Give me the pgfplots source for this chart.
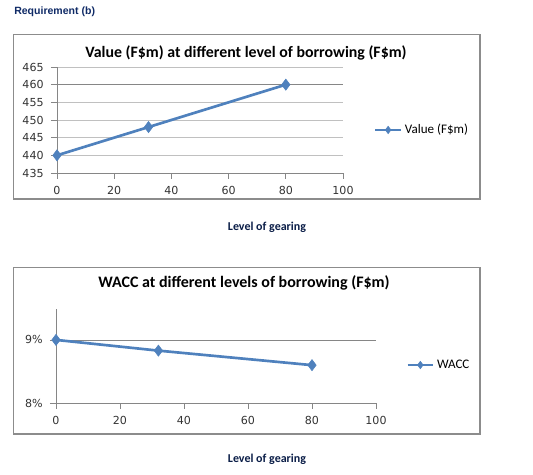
\documentclass[border=0pt]{standalone}
\usepackage{fontspec}
\setmainfont{Carlito}
\newfontfamily\dejavu{DejaVu Sans}
\newfontfamily\arialfont{Liberation Sans}
\usepackage{pgfplots}
\pgfplotsset{compat=1.18}
\definecolor{xlblue}{HTML}{4F81BD}
\definecolor{framegray}{HTML}{8C8C8C}
\definecolor{gridgray}{HTML}{C0C0C0}
\definecolor{axgray}{HTML}{868686}
\definecolor{navy}{HTML}{0F2A66}
\pgfplotsset{
  excel/.style={
    scale only axis,
    axis x line*=bottom, axis y line*=left,
    axis line style={-, draw=axgray, line width=0.6pt},
    tick align=outside, major tick length=4.5pt,
    tick style={draw=axgray, line width=0.6pt},
    ticklabel style={font=\dejavu\fontsize{8.3}{9}\selectfont, text=black!80},
    yticklabel style={xshift=-2pt},
    xticklabel style={yshift=-2pt},
    /pgf/number format/assume math mode=true,
    xmin=0, xmax=100, xtick={0,20,...,100},
    legend style={draw=none, fill=none, font=\fontsize{9.8}{10}\selectfont, anchor=west, inner sep=0pt},
    legend cell align=left,
    legend image code/.code={\draw[mark repeat=2,mark phase=2,mark size=2.8pt,#1] plot coordinates {(0pt,0pt)(9.5pt,0pt)(19pt,0pt)};},
  },
  xlseries/.style={color=xlblue, line width=2pt, mark=diamond*, mark size=4.2pt, mark options={solid, fill=xlblue, line width=0.4pt}},
}
\begin{document}
\begin{tikzpicture}
\begin{scope}[x=0.75pt, y=-0.75pt, yshift=356.25pt]
  \path (0,0) rectangle (533,475);
  \node[anchor=west, inner sep=0pt, font=\arialfont\bfseries\fontsize{7.9}{8}\selectfont, text=navy] at (14,12) {Requirement (b)};
  \draw[framegray, line width=1.3pt] (13.5,34.5) rectangle (480,199);
  \draw[framegray, line width=1.3pt] (13.5,267.5) rectangle (480,434);
  \node[font=\bfseries\fontsize{11.9}{12}\selectfont] at (246,53) {Value (F\$m) at different level of borrowing (F\$m)};
  \node[font=\bfseries\fontsize{12}{12}\selectfont] at (244,283) {WACC at different levels of borrowing (F\$m)};
  \node[font=\bfseries\fontsize{9}{10}\selectfont, text=navy!70!black] at (267,227) {Level of gearing};
  \node[font=\bfseries\fontsize{9}{10}\selectfont, text=navy!70!black] at (267,459) {Level of gearing};
\end{scope}

\begin{axis}[excel,
  at={(42.75pt,226.5pt)}, anchor=south west,
  width=214.5pt, height=79.5pt,
  ymin=435, ymax=465, ytick={435,440,...,465},
  ymajorgrids, grid style={gridgray, line width=0.6pt},
  extra y ticks={460}, extra y tick labels={}, extra y tick style={grid style={axgray, line width=0.6pt}, major tick length=0pt},
  legend style={at={(axis description cs:1.108,0.406)}},
]
\addplot[xlseries] coordinates {(0,440) (32,448) (80,460)};
\addlegendentry{Value (F\$m)}
\end{axis}

\begin{axis}[excel,
  at={(42pt,54pt)}, anchor=south west,
  width=240pt, height=70.5pt,
  ymin=8, ymax=9.49, ytick={8,9}, yticklabels={8\%,9\%},
  extra y ticks={9}, extra y tick labels={}, extra y tick style={grid=major, grid style={axgray, line width=0.6pt}, major tick length=0pt},
  legend style={at={(axis description cs:1.094,0.404)}},
]
\addplot[xlseries] coordinates {(0,9.0) (32,8.83) (80,8.60)};
\addlegendentry{WACC}
\end{axis}
\end{tikzpicture}
\end{document}
